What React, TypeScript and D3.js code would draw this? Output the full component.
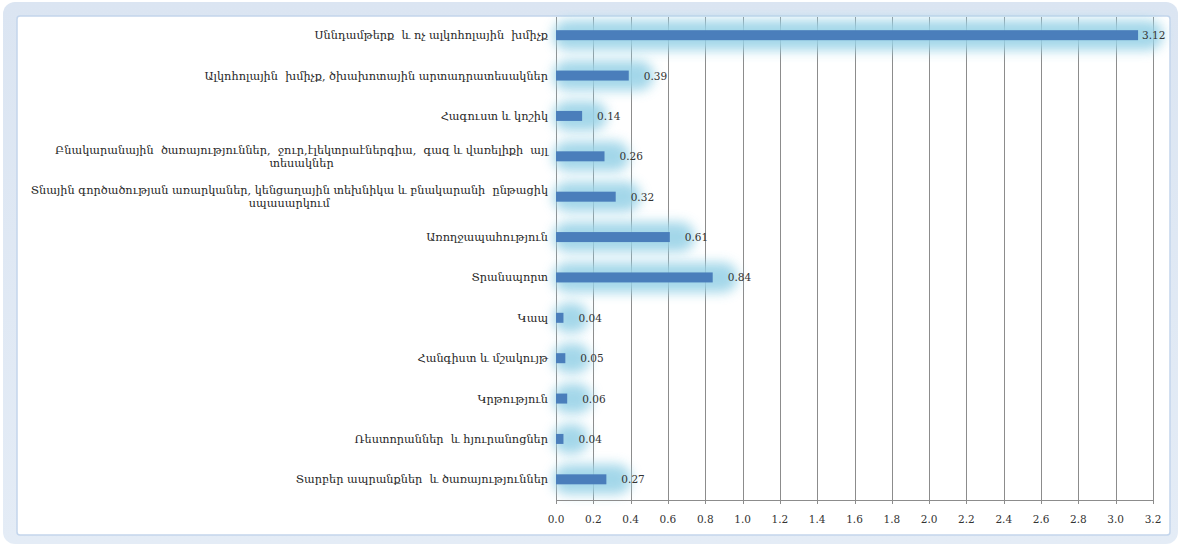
import React, { useEffect, useRef } from 'react';
import * as d3 from 'd3';

// categories (\n marks where the label wraps in the original)
const categories = [
  'Սննդամթերք  և ոչ ալկոհոլային  խմիչք',
  'Ալկոհոլային  խմիչք, ծխախոտային արտադրատեսակներ',
  'Հագուստ և կոշիկ',
  'Բնակարանային  ծառայություններ,  ջուր,էլեկտրաէներգիա,  գազ և վառելիքի  այլ\nտեսակներ',
  'Տնային գործածության առարկաներ, կենցաղային տեխնիկա և բնակարանի  ընթացիկ\nսպասարկում',
  'Առողջապահություն',
  'Տրանսպորտ',
  'Կապ',
  'Հանգիստ և մշակույթ',
  'Կրթություն',
  'Ռեստորաններ  և հյուրանոցներ',
  'Տարբեր ապրանքներ  և ծառայություններ',
];

const values = [3.12, 0.39, 0.14, 0.26, 0.32, 0.61, 0.84, 0.04, 0.05, 0.06, 0.04, 0.27];

const xTicks = [0, 0.2, 0.4, 0.6, 0.8, 1.0, 1.2, 1.4, 1.6, 1.8, 2.0, 2.2, 2.4, 2.6, 2.8, 3.0, 3.2];

const W = 1181;
const H = 546;

export default function App() {
  const svgRef = useRef<SVGSVGElement>(null);

  useEffect(() => {
    document.body.style.margin = '0';
    if (!svgRef.current) return;
    const svg = d3.select(svgRef.current);
    svg.selectAll('*').remove();

    const plot = { left: 556, right: 1153, top: 15, bottom: 500 };

    const x = d3.scaleLinear().domain([0, 3.2]).range([plot.left, plot.right]);
    const y = d3.scaleBand<number>()
      .domain(d3.range(categories.length))
      .range([plot.top, plot.bottom - 0.5]);

    const defs = svg.append('defs');
    const frameGrad = defs.append('linearGradient')
      .attr('id', 'frame-grad').attr('x1', 0).attr('y1', 0).attr('x2', 0).attr('y2', 1);
    frameGrad.append('stop').attr('offset', '0%').attr('stop-color', '#dbe5f2');
    frameGrad.append('stop').attr('offset', '100%').attr('stop-color', '#e4ecf6');

    const glow = defs.append('filter').attr('id', 'glow')
      .attr('x', '-30%').attr('y', '-100%').attr('width', '160%').attr('height', '300%');
    glow.append('feGaussianBlur').attr('stdDeviation', 6);

    // frame
    svg.append('rect')
      .attr('x', 3).attr('y', 2).attr('width', W - 6).attr('height', H - 4)
      .attr('rx', 12).attr('fill', 'url(#frame-grad)');
    svg.append('rect')
      .attr('x', 17).attr('y', 16).attr('width', 1153).attr('height', 519)
      .attr('rx', 3).attr('fill', '#ffffff').attr('stroke', '#c3d5ec').attr('stroke-width', 1.5);

    // gridlines
    svg.append('g').selectAll('line')
      .data(xTicks)
      .join('line')
      .attr('x1', d => Math.round(x(d)) + 0.5)
      .attr('x2', d => Math.round(x(d)) + 0.5)
      .attr('y1', 17)
      .attr('y2', plot.bottom + 4)
      .attr('stroke', '#8c8c8c')
      .attr('stroke-width', 1);

    // glow behind bars
    const bh = 10;
    svg.append('g').selectAll('rect')
      .data(values)
      .join('rect')
      .attr('x', plot.left - 3)
      .attr('y', (_, i) => y(i)! + y.bandwidth() / 2 - 15)
      .attr('width', d => x(d) - plot.left + 28)
      .attr('height', 30)
      .attr('rx', 15)
      .attr('fill', '#9ad3e7')
      .attr('opacity', 0.9)
      .attr('filter', 'url(#glow)');

    // axis
    svg.append('line')
      .attr('x1', plot.left).attr('x2', plot.right)
      .attr('y1', plot.bottom + 0.5).attr('y2', plot.bottom + 0.5)
      .attr('stroke', '#8c8c8c');

    svg.append('g').selectAll('text')
      .data(xTicks)
      .join('text')
      .attr('x', d => x(d))
      .attr('y', 523)
      .attr('text-anchor', 'middle')
      .attr('font-family', '"DejaVu Serif", serif')
      .attr('font-size', 10.5)
      .attr('fill', '#333')
      .text(d => d.toFixed(1));

    // bars
    svg.append('g').selectAll('rect')
      .data(values)
      .join('rect')
      .attr('x', plot.left)
      .attr('y', (_, i) => y(i)! + y.bandwidth() / 2 - bh / 2)
      .attr('width', d => x(d) - plot.left)
      .attr('height', bh)
      .attr('fill', '#4a7ebb');

    // value labels
    svg.append('g').selectAll('text')
      .data(values)
      .join('text')
      .attr('x', d => Math.min(x(d) + 15, 1142))
      .attr('y', (_, i) => y(i)! + y.bandwidth() / 2 + 4)
      .attr('font-family', '"DejaVu Serif", serif')
      .attr('font-size', 10.5)
      .attr('fill', '#333')
      .text(d => d.toFixed(2));

    // category labels
    const labelRight = 548;
    const lineH = 13.5;
    categories.forEach((c, i) => {
      const lines = c.split('\n');
      const cy = y(i)! + y.bandwidth() / 2;
      const g = svg.append('g');
      const texts = lines.map((ln, k) =>
        g.append('text')
          .attr('y', cy + (k - (lines.length - 1) / 2) * lineH + 4)
          .attr('font-family', '"DejaVu Serif", serif')
          .attr('font-size', 11.3)
          .attr('fill', '#262626')
          .style('white-space', 'pre')
          .text(ln)
      );
      const widths = texts.map(t => (t.node() as SVGTextElement).getComputedTextLength());
      const maxW = d3.max(widths) || 0;
      const cx = labelRight - maxW / 2;
      texts.forEach(t => t.attr('x', cx).attr('text-anchor', 'middle'));
    });
  }, []);

  return <svg ref={svgRef} width={W} height={H} style={{ display: 'block' }} />;
}
